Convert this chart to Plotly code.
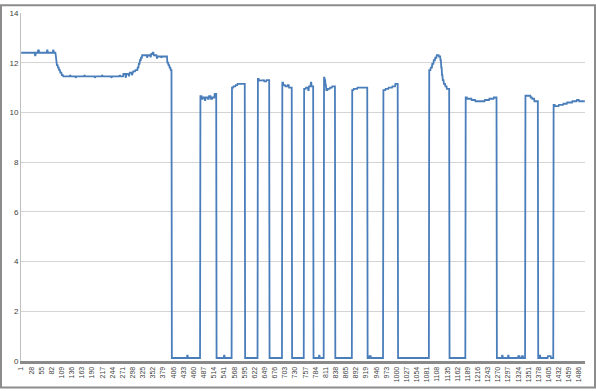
import plotly.graph_objects as go

# Piecewise-constant series: (value, number of samples)
seg_values = [
    12.4, 12.3, 12.4, 12.5, 12.4, 12.5, 12.4, 12.5, 12.4,
    12.3, 12.0, 11.9, 11.8, 11.7, 11.6, 11.5,
    11.45, 11.5, 11.45, 11.4, 11.45, 11.5, 11.45, 11.4, 11.45, 11.5, 11.45, 11.4, 11.45, 11.5, 11.45,
    11.55, 11.4, 11.55, 11.45, 11.6, 11.5, 11.65, 11.7,
    11.8, 11.95, 12.1, 12.2, 12.3,
    12.3, 12.2, 12.3, 12.25, 12.35, 12.4, 12.3, 12.2, 12.25, 12.2, 12.25,
    12.0, 11.9, 11.8, 11.7,
    0.12, 0.22, 0.12,
    10.65, 10.55, 10.6, 10.5, 10.6, 10.55, 10.65, 10.55, 10.6, 10.75,
    0.12, 0.22, 0.12,
    11.0, 11.05, 11.1, 11.15,
    0.12,
    11.35, 11.28, 11.3, 11.25, 11.3,
    0.12,
    11.2, 11.1, 11.05, 11.1, 11.0,
    0.12,
    10.95, 11.0, 10.9, 11.05, 11.2, 11.05,
    0.12, 0.22, 0.12,
    11.4, 11.3, 11.1, 10.9, 10.95, 11.0, 11.05,
    0.12,
    10.9, 10.95, 11.0,
    0.12, 0.2, 0.12,
    10.9, 10.95, 11.0, 11.05, 11.15,
    0.12,
    11.7, 11.8, 11.95, 12.1, 12.2, 12.3, 12.25, 12.1, 11.8, 11.5, 11.3, 11.15, 11.05, 10.95,
    0.12,
    10.6, 10.55, 10.5, 10.45, 10.5, 10.55, 10.6,
    0.12, 0.22, 0.12, 0.22, 0.12, 0.2, 0.12, 0.2, 0.12,
    10.67, 10.6, 10.55, 10.45,
    0.12, 0.22, 0.12, 0.2, 0.12,
    10.3, 10.25, 10.3, 10.35, 10.4, 10.45, 10.5, 10.45,
]
seg_lengths = [
    37, 2, 6, 3, 21, 2, 14, 2, 5,
    1, 2, 3, 3, 3, 4, 4,
    18, 1, 14, 1, 22, 1, 27, 1, 18, 1, 24, 1, 21, 1, 9,
    6, 1, 8, 1, 7, 1, 8, 6,
    3, 3, 3, 3, 3,
    10, 1, 8, 2, 4, 3, 8, 2, 10, 1, 15,
    3, 3, 3, 3,
    41, 2, 33,
    4, 3, 5, 2, 6, 3, 5, 4, 6, 5,
    20, 2, 19,
    4, 6, 5, 20,
    34,
    3, 8, 6, 6, 8,
    34,
    3, 5, 6, 4, 8,
    32,
    5, 6, 2, 5, 2, 5,
    15, 2, 11,
    2, 2, 2, 4, 6, 6, 8,
    45,
    4, 10, 27,
    5, 4, 33,
    6, 8, 10, 8, 7,
    83,
    4, 4, 4, 4, 4, 6, 4, 2, 2, 2, 3, 4, 4, 7,
    43,
    4, 12, 10, 25, 12, 12, 8,
    14, 2, 14, 2, 25, 4, 6, 3, 6,
    14, 4, 6, 10,
    4, 2, 20, 8, 7,
    4, 10, 12, 10, 14, 12, 6, 16,
]

values = []
for v, n in zip(seg_values, seg_lengths):
    values.extend([v] * n)
categories = list(range(1, len(values) + 1))

tick_labels = [str(c) for c in categories if (c - 1) % 27 == 0]
tick_positions = [int(t) for t in tick_labels]
y_ticks = [0, 2, 4, 6, 8, 10, 12, 14]

fig = go.Figure()
fig.add_trace(go.Scatter(
    x=categories, y=values, mode="lines",
    line=dict(color="#4a7ebb", width=1.8),
    hoverinfo="skip",
))

W, H = 596, 391
ml, mr, mt, mb = 21, 11, 9, 28
pw, ph = W - ml - mr, H - mt - mb

fig.update_layout(
    width=W, height=H,
    margin=dict(l=ml, r=mr, t=mt, b=mb, pad=0),
    paper_bgcolor="white", plot_bgcolor="white",
    showlegend=False,
    font=dict(family="Liberation Sans, Arial, sans-serif", color="#595959"),
    xaxis=dict(
        range=[0.5, len(values) + 0.5],
        tickmode="array", tickvals=tick_positions, ticktext=tick_labels,
        tickangle=-90, tickfont=dict(size=7, color="#404040"),
        showgrid=False, zeroline=False,
        showline=True, linecolor="#8a8a8a", linewidth=3,
        ticks="", ticklen=0,
    ),
    yaxis=dict(
        range=[0, 14], tickmode="array", tickvals=y_ticks,
        tickfont=dict(size=8, color="#404040"),
        showgrid=True, gridcolor="#d4d4d4", gridwidth=1,
        zeroline=False, showline=True, linecolor="#bfbfbf", linewidth=1,
        ticks="", ticklen=0,
    ),
    shapes=[dict(
        type="rect", xref="paper", yref="paper",
        x0=(-ml + 1) / pw, x1=(pw + mr - 1) / pw,
        y0=(-mb + 1) / ph, y1=(ph + mt - 1) / ph,
        line=dict(color="#8c8c8c", width=2), fillcolor="rgba(0,0,0,0)",
        layer="below",
    )],
)

fig.write_html("out.html")
